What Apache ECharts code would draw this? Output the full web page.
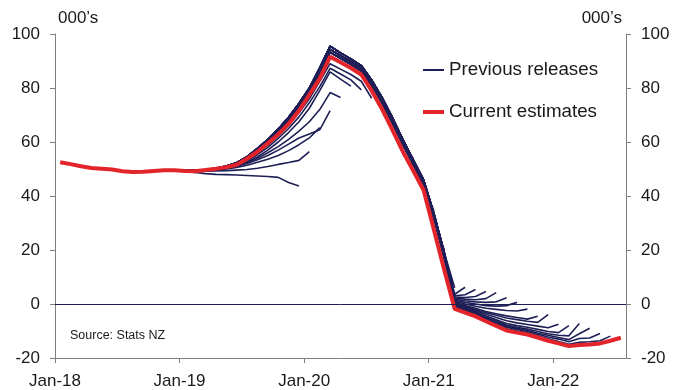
<!DOCTYPE html>
<html>
<head>
<meta charset="utf-8">
<script src="https://cdn.jsdelivr.net/npm/echarts@6/dist/echarts.min.js"></script>
<style>
  html, body { margin: 0; padding: 0; background: #ffffff; }
  #chart { width: 675px; height: 390px; }
</style>
</head>
<body>
<div id="chart"></div>
<script>
// Annual net migration, thousands. x = months since Jan-18; each monthly value sits mid-month.
const yearTickMonths = [0, 12, 24, 36, 48];
const yearTickLabels = ['Jan-18', 'Jan-19', 'Jan-20', 'Jan-21', 'Jan-22'];
const yTickStep = 20;

// Current estimates, Jan-18 to Jul-22
const currentEstimates = [
  52.5, 51.8, 51.0, 50.4, 50.1, 49.8, 49.2, 48.9, 49.0, 49.3, 49.5, 49.5,
  49.3, 49.2, 49.6, 50.1, 50.7, 51.6, 53.8, 56.4, 59.5, 62.8, 66.7, 71.6,
  77.5, 83.5, 91.6, 89.5, 87.4, 85.0, 79.0, 72.2, 64.5, 56.5, 49.4, 42.2, 27.5, 12.5,
  -1.8, -3.2, -4.6, -6.4, -8.1, -9.8, -10.6, -11.3, -12.4, -13.6, -14.6, -15.6,
  -15.2, -15.0, -14.6, -13.6, -12.5
];

// Previous releases, all shown from Jan-19 (month 12)
const releaseStartMonth = 12;

// Releases with latest month Dec-19 .. Jul-20
const releaseDec19 = [49.1, 48.7, 48.3, 48.0, 47.9, 47.8, 47.6, 47.4, 47.2, 46.9, 45.0, 43.7];
const releaseJan20 = [49.2, 49.1, 49.2, 49.3, 49.4, 49.6, 49.8, 50.3, 50.9, 51.7, 52.4, 53.2, 56.4];
const releaseFeb20 = [49.3, 49.2, 49.4, 49.6, 50.0, 50.6, 51.4, 52.5, 53.6, 55.0, 56.8, 59.0, 61.5, 65.3];
const releaseMar20 = [49.3, 49.2, 49.5, 49.8, 50.3, 51.0, 52.0, 53.4, 55.0, 57.0, 59.2, 61.5, 63.0, 64.5, 71.6];
const releaseApr20 = [49.3, 49.2, 49.5, 49.9, 50.4, 51.2, 52.4, 54.0, 56.0, 58.3, 61.0, 64.0, 67.5, 72.0, 78.3, 76.5];
const releaseMay20 = [49.3, 49.2, 49.5, 49.9, 50.5, 51.3, 52.6, 54.5, 57.0, 60.0, 63.5, 67.5, 72.5, 79.0, 86.0, 83.3, 80.7];
const releaseJun20 = [49.3, 49.2, 49.6, 50.0, 50.6, 51.5, 53.0, 55.3, 58.0, 61.3, 65.0, 69.3, 74.5, 80.5, 87.3, 85.2, 83.0, 79.3];
const releaseJul20 = [49.3, 49.2, 49.6, 50.0, 50.7, 51.6, 53.3, 55.8, 58.8, 62.2, 66.2, 70.8, 76.0, 82.5, 89.0, 87.0, 85.0, 82.5, 76.2];
const earlyReleases = [releaseDec19, releaseJan20, releaseFeb20, releaseMar20,
                       releaseApr20, releaseMay20, releaseJun20, releaseJul20];

// Revised Jan-19 .. Feb-21 history as carried in later releases
const historyHigh = [49.5, 49.4, 49.8, 50.3, 51.1, 52.3, 54.6, 57.6, 61.0, 64.8, 69.2, 74.3,
                     80.0, 87.5, 95.5, 93.0, 90.8, 88.3, 83.0, 76.5, 69.0, 61.0, 53.5, 46.0, 33.5, 19.0];
const historyMid  = [49.4, 49.3, 49.7, 50.2, 51.0, 52.1, 54.3, 57.2, 60.5, 64.2, 68.5, 73.5,
                     79.2, 86.6, 94.3, 92.0, 89.8, 87.3, 82.0, 75.5, 68.0, 60.0, 52.5, 45.0, 32.0, 17.0];
const historyLow  = [49.4, 49.3, 49.7, 50.2, 50.9, 52.0, 54.1, 56.9, 60.1, 63.7, 68.0, 72.8,
                     78.5, 85.6, 93.2, 91.0, 88.8, 86.3, 81.0, 74.5, 67.0, 59.0, 51.5, 44.0, 31.0, 16.0];

// Releases with latest month Aug-20 .. Feb-21: their first estimate of that month
const dropReleaseEnds = [31, 32, 33, 34, 35, 36, 37];
const dropReleaseLatest = [76.5, 69.5, 61.5, 54.0, 46.5, 34.5, 20.0];

// Releases with latest month Mar-21 .. Jun-22: values from Mar-21 onward
const lateReleaseTails = [
  [6.0],
  [3.6, 6.2],
  [3.0, 3.4, 5.4],
  [2.6, 2.4, 2.8, 4.6],
  [2.2, 1.8, 1.6, 2.0, 4.2],
  [1.8, 1.2, 0.8, 0.6, 0.8, 2.3],
  [1.4, 0.6, 0.0, -0.6, -0.8, -0.6, 0.6],
  [1.0, 0.0, -0.8, -1.6, -2.0, -2.4, -2.6, -1.9],
  [0.6, -0.6, -1.6, -2.8, -3.6, -4.4, -5.0, -5.6, -4.5],
  [0.4, -0.8, -2.0, -3.2, -4.2, -5.2, -5.8, -6.4, -6.8, -3.9],
  [0.2, -1.0, -2.4, -3.8, -5.0, -6.2, -7.0, -7.6, -8.2, -8.8, -7.5],
  [0.0, -1.3, -2.8, -4.4, -5.8, -7.2, -8.0, -8.6, -9.4, -10.2, -10.6, -8.0],
  [-0.3, -1.6, -3.1, -4.8, -6.2, -7.8, -8.6, -9.3, -10.2, -11.0, -11.6, -11.8, -7.2],
  [-0.6, -1.9, -3.4, -5.1, -6.6, -8.2, -9.0, -9.8, -10.8, -11.6, -12.4, -13.2, -11.0, -9.0],
  [-0.9, -2.2, -3.7, -5.4, -7.0, -8.6, -9.4, -10.2, -11.2, -12.2, -13.0, -14.0, -12.8, -12.6, -10.9],
  [-1.2, -2.6, -4.0, -5.8, -7.5, -9.2, -10.0, -10.7, -11.8, -12.9, -13.9, -14.9, -14.2, -14.0, -13.6, -11.9]
];
const lateReleaseHistories = [historyHigh, historyHigh, historyHigh, historyHigh,
                              historyHigh, historyHigh, historyHigh, historyHigh,
                              historyMid, historyMid, historyMid, historyMid,
                              historyMid, historyMid, historyMid, historyMid];

const NAVY = '#1f1f57';
const RED = '#e3242b';
const AXIS_GREY = '#7f7f7f';
const TEXT = '#1a1a1a';
const FONT = 'Liberation Sans, Arial, sans-serif';

// monthly values -> [x, y] pairs placed mid-month
function monthlyPoints(values, startMonth) {
  return values.map((v, k) => [startMonth + k + 0.5, v]);
}

const releaseValueLists = [];
earlyReleases.forEach(r => releaseValueLists.push(r));
dropReleaseEnds.forEach((end, k) => {
  releaseValueLists.push(historyLow.slice(0, end - releaseStartMonth).concat([dropReleaseLatest[k]]));
});
lateReleaseTails.forEach((tail, k) => {
  releaseValueLists.push(lateReleaseHistories[k].concat(tail));
});

const series = releaseValueLists.map((vals, k) => ({
  name: 'Previous releases',
  type: 'line',
  data: monthlyPoints(vals, releaseStartMonth),
  symbol: 'none',
  showSymbol: false,
  silent: true,
  z: 2,
  lineStyle: { color: NAVY, width: 1.6 },
  itemStyle: { color: NAVY },
  markLine: k === 0 ? {
    silent: true,
    symbol: ['none', 'none'],
    label: { show: false },
    lineStyle: { color: NAVY, width: 1, type: 'solid' },
    data: [{ yAxis: 0 }]
  } : undefined
}));

series.push({
  name: 'Current estimates',
  type: 'line',
  data: monthlyPoints(currentEstimates, 0),
  symbol: 'none',
  showSymbol: false,
  silent: true,
  z: 3,
  lineStyle: { color: RED, width: 4 },
  itemStyle: { color: RED }
});

function yAxisCfg(position) {
  return {
    type: 'value',
    position: position,
    min: -20, max: 100, interval: yTickStep,
    axisLine: { show: true, lineStyle: { color: AXIS_GREY, width: 1 } },
    axisTick: { show: true, inside: false, length: 5, lineStyle: { color: AXIS_GREY } },
    axisLabel: { margin: 15, color: TEXT, fontSize: 17, fontFamily: FONT },
    splitLine: { show: false }
  };
}

const chart = echarts.init(document.getElementById('chart'), null, { renderer: 'canvas' });
chart.setOption({
  animation: false,
  backgroundColor: '#ffffff',
  grid: { left: 55, right: 49, top: 34, bottom: 32, containLabel: false },
  xAxis: {
    type: 'value',
    min: 0, max: 55, interval: 12,
    axisLine: { show: true, onZero: false, lineStyle: { color: AXIS_GREY, width: 1 } },
    axisTick: { show: true, inside: false, length: 5, customValues: yearTickMonths, lineStyle: { color: AXIS_GREY } },
    axisLabel: {
      customValues: yearTickMonths,
      margin: 15, color: TEXT, fontSize: 17, fontFamily: FONT,
      formatter: v => {
        const k = yearTickMonths.indexOf(Math.round(v));
        return (k >= 0 && Math.abs(v - Math.round(v)) < 1e-6) ? yearTickLabels[k] : '';
      }
    },
    splitLine: { show: false }
  },
  yAxis: [yAxisCfg('left'), yAxisCfg('right')],
  legend: {
    orient: 'vertical',
    left: 423, top: 60, padding: 0,
    itemWidth: 21, itemHeight: 14, itemGap: 22,
    selectedMode: false,
    textStyle: { color: TEXT, fontSize: 18.75, fontFamily: FONT, lineHeight: 20 },
    data: [
      { name: 'Previous releases', icon: 'path://M0,6H21V8H0Z', itemStyle: { color: NAVY } },
      { name: 'Current estimates', icon: 'path://M0,5H21V9H0Z', itemStyle: { color: RED } }
    ]
  },
  graphic: [
    { type: 'text', left: 58, top: 10, silent: true,
      style: { text: '000\u2019s', fill: TEXT, font: '17px ' + FONT } },
    { type: 'text', right: 53, top: 10, silent: true,
      style: { text: '000\u2019s', fill: TEXT, font: '17px ' + FONT } },
    { type: 'text', left: 70, top: 329, silent: true,
      style: { text: 'Source: Stats NZ', fill: TEXT, font: '12.5px ' + FONT } }
  ],
  series: series
});
</script>
</body>
</html>
